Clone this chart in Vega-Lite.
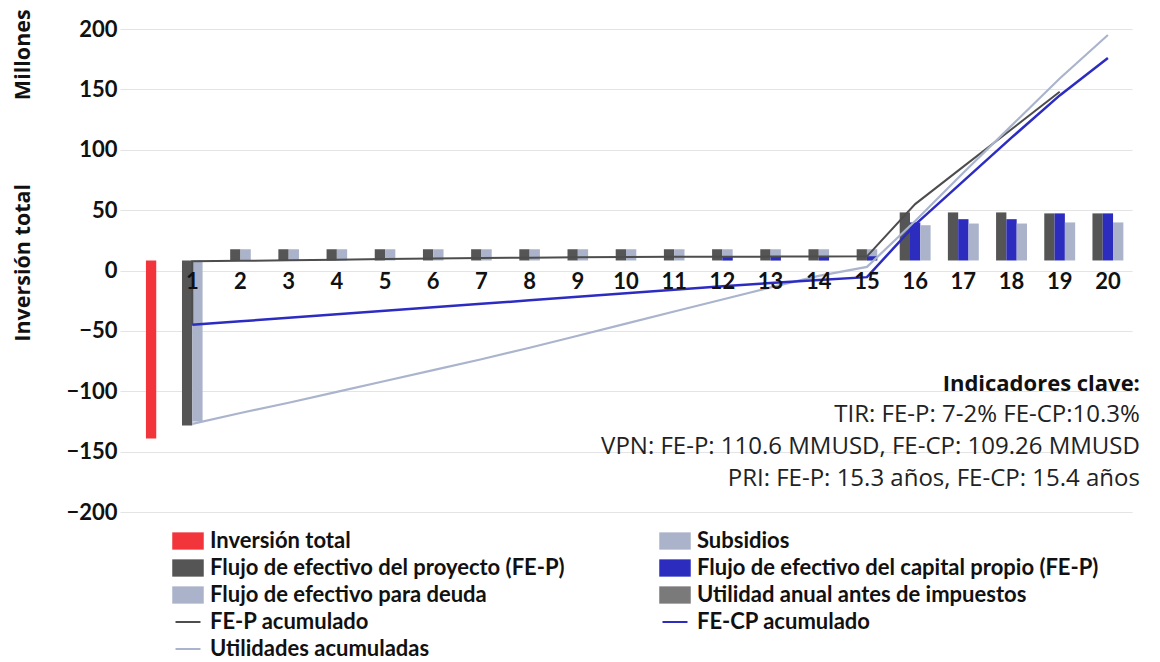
{
  "$schema": "https://vega.github.io/schema/vega-lite/v6.json",
  "width": 1012,
  "height": 483,
  "autosize": {"type": "none"},
  "padding": {"left": 120, "top": 29, "right": 28, "bottom": 150},
  "background": "white",
  "config": {
    "font": "Lato",
    "view": {"stroke": null},
    "axis": {"domain": false, "ticks": false, "tickSize": 0, "labelFont": "Lato", "labelFontWeight": "bold", "labelColor": "#111111", "labelFontSize": 22, "titleFont": "Lato"}
  },
  "datasets": {
    "barras": [
      {"anio": 0, "serie": "Inversión total", "valor": -147.4},
      {"anio": 1, "serie": "FE-P", "valor": -136.6},
      {"anio": 2, "serie": "FE-P", "valor": 9.3},
      {"anio": 3, "serie": "FE-P", "valor": 9.3},
      {"anio": 4, "serie": "FE-P", "valor": 9.3},
      {"anio": 5, "serie": "FE-P", "valor": 9.3},
      {"anio": 6, "serie": "FE-P", "valor": 9.3},
      {"anio": 7, "serie": "FE-P", "valor": 9.3},
      {"anio": 8, "serie": "FE-P", "valor": 9.3},
      {"anio": 9, "serie": "FE-P", "valor": 9.3},
      {"anio": 10, "serie": "FE-P", "valor": 9.3},
      {"anio": 11, "serie": "FE-P", "valor": 9.3},
      {"anio": 12, "serie": "FE-P", "valor": 9.3},
      {"anio": 13, "serie": "FE-P", "valor": 9.3},
      {"anio": 14, "serie": "FE-P", "valor": 9.3},
      {"anio": 15, "serie": "FE-P", "valor": 9.3},
      {"anio": 16, "serie": "FE-P", "valor": 39.8},
      {"anio": 17, "serie": "FE-P", "valor": 39.8},
      {"anio": 18, "serie": "FE-P", "valor": 39.8},
      {"anio": 19, "serie": "FE-P", "valor": 39.0},
      {"anio": 20, "serie": "FE-P", "valor": 39.0},
      {"anio": 1, "serie": "Subsidios", "valor": -133.3},
      {"anio": 2, "serie": "Subsidios", "valor": 9.3},
      {"anio": 3, "serie": "Subsidios", "valor": 9.3},
      {"anio": 4, "serie": "Subsidios", "valor": 9.3},
      {"anio": 5, "serie": "Subsidios", "valor": 9.3},
      {"anio": 6, "serie": "Subsidios", "valor": 9.3},
      {"anio": 7, "serie": "Subsidios", "valor": 9.3},
      {"anio": 8, "serie": "Subsidios", "valor": 9.3},
      {"anio": 9, "serie": "Subsidios", "valor": 9.3},
      {"anio": 10, "serie": "Subsidios", "valor": 9.3},
      {"anio": 11, "serie": "Subsidios", "valor": 9.3},
      {"anio": 12, "serie": "Subsidios", "valor": 9.3},
      {"anio": 13, "serie": "Subsidios", "valor": 9.3},
      {"anio": 14, "serie": "Subsidios", "valor": 9.3},
      {"anio": 15, "serie": "Subsidios", "valor": 9.3},
      {"anio": 12, "serie": "FE-CP", "valor": 3.5},
      {"anio": 13, "serie": "FE-CP", "valor": 3.5},
      {"anio": 14, "serie": "FE-CP", "valor": 3.5},
      {"anio": 15, "serie": "FE-CP", "valor": 3.5},
      {"anio": 16, "serie": "FE-CP", "valor": 31.5},
      {"anio": 17, "serie": "FE-CP", "valor": 34.2},
      {"anio": 18, "serie": "FE-CP", "valor": 34.2},
      {"anio": 19, "serie": "FE-CP", "valor": 39.0},
      {"anio": 20, "serie": "FE-CP", "valor": 39.0},
      {"anio": 16, "serie": "Deuda", "valor": 29.2},
      {"anio": 17, "serie": "Deuda", "valor": 30.6},
      {"anio": 18, "serie": "Deuda", "valor": 30.6},
      {"anio": 19, "serie": "Deuda", "valor": 31.5},
      {"anio": 20, "serie": "Deuda", "valor": 31.5}
    ],
    "lineas": [
      {"serie": "FE-P acumulado", "paso": 0, "anio": 1, "valor": -45},
      {"serie": "FE-P acumulado", "paso": 1, "anio": 1, "valor": 7.7},
      {"serie": "FE-P acumulado", "paso": 2, "anio": 2, "valor": 8.0},
      {"serie": "FE-P acumulado", "paso": 3, "anio": 3, "valor": 8.5},
      {"serie": "FE-P acumulado", "paso": 4, "anio": 4, "valor": 9.0},
      {"serie": "FE-P acumulado", "paso": 5, "anio": 5, "valor": 9.6},
      {"serie": "FE-P acumulado", "paso": 6, "anio": 6, "valor": 10.0},
      {"serie": "FE-P acumulado", "paso": 7, "anio": 7, "valor": 10.3},
      {"serie": "FE-P acumulado", "paso": 8, "anio": 8, "valor": 10.6},
      {"serie": "FE-P acumulado", "paso": 9, "anio": 9, "valor": 11.0},
      {"serie": "FE-P acumulado", "paso": 10, "anio": 10, "valor": 11.2},
      {"serie": "FE-P acumulado", "paso": 11, "anio": 11, "valor": 11.3},
      {"serie": "FE-P acumulado", "paso": 12, "anio": 12, "valor": 11.4},
      {"serie": "FE-P acumulado", "paso": 13, "anio": 13, "valor": 11.5},
      {"serie": "FE-P acumulado", "paso": 14, "anio": 14, "valor": 11.6},
      {"serie": "FE-P acumulado", "paso": 15, "anio": 15, "valor": 11.7},
      {"serie": "FE-P acumulado", "paso": 16, "anio": 16, "valor": 55},
      {"serie": "FE-P acumulado", "paso": 17, "anio": 17, "valor": 86},
      {"serie": "FE-P acumulado", "paso": 18, "anio": 18, "valor": 117},
      {"serie": "FE-P acumulado", "paso": 19, "anio": 19, "valor": 148},
      {"serie": "FE-CP acumulado", "paso": 1, "anio": 1, "valor": -45},
      {"serie": "FE-CP acumulado", "paso": 2, "anio": 2, "valor": -42.1},
      {"serie": "FE-CP acumulado", "paso": 3, "anio": 3, "valor": -39.2},
      {"serie": "FE-CP acumulado", "paso": 4, "anio": 4, "valor": -36.3},
      {"serie": "FE-CP acumulado", "paso": 5, "anio": 5, "valor": -33.4},
      {"serie": "FE-CP acumulado", "paso": 6, "anio": 6, "valor": -30.5},
      {"serie": "FE-CP acumulado", "paso": 7, "anio": 7, "valor": -27.6},
      {"serie": "FE-CP acumulado", "paso": 8, "anio": 8, "valor": -24.7},
      {"serie": "FE-CP acumulado", "paso": 9, "anio": 9, "valor": -21.8},
      {"serie": "FE-CP acumulado", "paso": 10, "anio": 10, "valor": -18.9},
      {"serie": "FE-CP acumulado", "paso": 11, "anio": 11, "valor": -16.0},
      {"serie": "FE-CP acumulado", "paso": 12, "anio": 12, "valor": -13.1},
      {"serie": "FE-CP acumulado", "paso": 13, "anio": 13, "valor": -10.3},
      {"serie": "FE-CP acumulado", "paso": 14, "anio": 14, "valor": -7.9},
      {"serie": "FE-CP acumulado", "paso": 15, "anio": 15, "valor": -5.5},
      {"serie": "FE-CP acumulado", "paso": 16, "anio": 16, "valor": 38},
      {"serie": "FE-CP acumulado", "paso": 17, "anio": 17, "valor": 74},
      {"serie": "FE-CP acumulado", "paso": 18, "anio": 18, "valor": 110},
      {"serie": "FE-CP acumulado", "paso": 19, "anio": 19, "valor": 145},
      {"serie": "FE-CP acumulado", "paso": 20, "anio": 20, "valor": 176},
      {"serie": "Utilidades acumuladas", "paso": 1, "anio": 1, "valor": -127},
      {"serie": "Utilidades acumuladas", "paso": 2, "anio": 2, "valor": -118},
      {"serie": "Utilidades acumuladas", "paso": 3, "anio": 3, "valor": -109.5},
      {"serie": "Utilidades acumuladas", "paso": 4, "anio": 4, "valor": -100.5},
      {"serie": "Utilidades acumuladas", "paso": 5, "anio": 5, "valor": -91.5},
      {"serie": "Utilidades acumuladas", "paso": 6, "anio": 6, "valor": -82.5},
      {"serie": "Utilidades acumuladas", "paso": 7, "anio": 7, "valor": -73.5},
      {"serie": "Utilidades acumuladas", "paso": 8, "anio": 8, "valor": -64},
      {"serie": "Utilidades acumuladas", "paso": 9, "anio": 9, "valor": -54},
      {"serie": "Utilidades acumuladas", "paso": 10, "anio": 10, "valor": -44},
      {"serie": "Utilidades acumuladas", "paso": 11, "anio": 11, "valor": -34},
      {"serie": "Utilidades acumuladas", "paso": 12, "anio": 12, "valor": -24},
      {"serie": "Utilidades acumuladas", "paso": 13, "anio": 13, "valor": -14},
      {"serie": "Utilidades acumuladas", "paso": 14, "anio": 14, "valor": -4.5},
      {"serie": "Utilidades acumuladas", "paso": 15, "anio": 15, "valor": 3},
      {"serie": "Utilidades acumuladas", "paso": 16, "anio": 16, "valor": 41},
      {"serie": "Utilidades acumuladas", "paso": 17, "anio": 17, "valor": 81},
      {"serie": "Utilidades acumuladas", "paso": 18, "anio": 18, "valor": 120},
      {"serie": "Utilidades acumuladas", "paso": 19, "anio": 19, "valor": 159},
      {"serie": "Utilidades acumuladas", "paso": 20, "anio": 20, "valor": 195}
    ],
    "leyenda": [
      {"serie": "Inversión total"},
      {"serie": "Flujo de efectivo del proyecto (FE-P)"},
      {"serie": "Flujo de efectivo para deuda"},
      {"serie": "FE-P acumulado"},
      {"serie": "Utilidades acumuladas"},
      {"serie": "Subsidios"},
      {"serie": "Flujo de efectivo del capital propio (FE-P)"},
      {"serie": "Utilidad anual antes de impuestos"},
      {"serie": "FE-CP acumulado"}
    ]
  },
  "layer": [
    {
      "layer": [
        {
          "data": {"name": "barras"},
          "transform": [{"filter": "datum.serie === 'Inversión total'"}],
          "mark": {"type": "bar", "color": "#f2353b", "width": 10.3, "xOffset": 7},
          "encoding": {
            "x": {"field": "anio", "type": "ordinal", "scale": {"type": "band", "domain": [0,1,2,3,4,5,6,7,8,9,10,11,12,13,14,15,16,17,18,19,20], "paddingInner": 0, "paddingOuter": 0}, "axis": {"values": [1,2,3,4,5,6,7,8,9,10,11,12,13,14,15,16,17,18,19,20], "offset": -224, "labelPadding": 0, "labelBaseline": "alphabetic", "labelAngle": 0, "grid": false, "title": null, "zindex": 2}},
            "y": {"field": "valor", "type": "quantitative", "scale": {"domain": [-208.3, 191.7], "nice": false}, "axis": null}
          }
        },
        {
          "data": {"name": "barras"},
          "transform": [{"filter": "datum.serie === 'FE-P' && datum.anio <= 15"}],
          "mark": {"type": "bar", "color": "#555555", "width": 10.3, "xOffset": -5.15},
          "encoding": {
            "x": {"field": "anio", "type": "ordinal", "scale": {"type": "band", "domain": [0,1,2,3,4,5,6,7,8,9,10,11,12,13,14,15,16,17,18,19,20], "paddingInner": 0, "paddingOuter": 0}},
            "y": {"field": "valor", "type": "quantitative", "scale": {"domain": [-208.3, 191.7], "nice": false}, "axis": null}
          }
        },
        {
          "data": {"name": "barras"},
          "transform": [{"filter": "datum.serie === 'Subsidios'"}],
          "mark": {"type": "bar", "color": "#aab3c9", "width": 10.3, "xOffset": 5.15},
          "encoding": {
            "x": {"field": "anio", "type": "ordinal", "scale": {"type": "band", "domain": [0,1,2,3,4,5,6,7,8,9,10,11,12,13,14,15,16,17,18,19,20], "paddingInner": 0, "paddingOuter": 0}},
            "y": {"field": "valor", "type": "quantitative", "scale": {"domain": [-208.3, 191.7], "nice": false}, "axis": null}
          }
        },
        {
          "data": {"name": "barras"},
          "transform": [{"filter": "datum.serie === 'FE-CP' && datum.anio <= 15"}],
          "mark": {"type": "bar", "color": "#2c2cbf", "width": 10.3, "xOffset": 5.15},
          "encoding": {
            "x": {"field": "anio", "type": "ordinal", "scale": {"type": "band", "domain": [0,1,2,3,4,5,6,7,8,9,10,11,12,13,14,15,16,17,18,19,20], "paddingInner": 0, "paddingOuter": 0}},
            "y": {"field": "valor", "type": "quantitative", "scale": {"domain": [-208.3, 191.7], "nice": false}, "axis": null}
          }
        },
        {
          "data": {"name": "barras"},
          "transform": [{"filter": "datum.serie === 'FE-P' && datum.anio >= 16"}],
          "mark": {"type": "bar", "color": "#555555", "width": 10.3, "xOffset": -10.3},
          "encoding": {
            "x": {"field": "anio", "type": "ordinal", "scale": {"type": "band", "domain": [0,1,2,3,4,5,6,7,8,9,10,11,12,13,14,15,16,17,18,19,20], "paddingInner": 0, "paddingOuter": 0}},
            "y": {"field": "valor", "type": "quantitative", "scale": {"domain": [-208.3, 191.7], "nice": false}, "axis": null}
          }
        },
        {
          "data": {"name": "barras"},
          "transform": [{"filter": "datum.serie === 'FE-CP' && datum.anio >= 16"}],
          "mark": {"type": "bar", "color": "#2c2cbf", "width": 10.3, "xOffset": 0},
          "encoding": {
            "x": {"field": "anio", "type": "ordinal", "scale": {"type": "band", "domain": [0,1,2,3,4,5,6,7,8,9,10,11,12,13,14,15,16,17,18,19,20], "paddingInner": 0, "paddingOuter": 0}},
            "y": {"field": "valor", "type": "quantitative", "scale": {"domain": [-208.3, 191.7], "nice": false}, "axis": null}
          }
        },
        {
          "data": {"name": "barras"},
          "transform": [{"filter": "datum.serie === 'Deuda'"}],
          "mark": {"type": "bar", "color": "#aab3c9", "width": 10.3, "xOffset": 10.3},
          "encoding": {
            "x": {"field": "anio", "type": "ordinal", "scale": {"type": "band", "domain": [0,1,2,3,4,5,6,7,8,9,10,11,12,13,14,15,16,17,18,19,20], "paddingInner": 0, "paddingOuter": 0}},
            "y": {"field": "valor", "type": "quantitative", "scale": {"domain": [-208.3, 191.7], "nice": false}, "axis": null}
          }
        }
      ]
    },
    {
      "layer": [
        {
          "data": {"name": "lineas"},
          "transform": [{"filter": "datum.serie === 'FE-P acumulado'"}],
          "mark": {"type": "line", "color": "#4d4d4d", "strokeWidth": 2},
          "encoding": {
            "x": {"field": "anio", "type": "ordinal", "scale": {"type": "band", "domain": [0,1,2,3,4,5,6,7,8,9,10,11,12,13,14,15,16,17,18,19,20], "paddingInner": 0, "paddingOuter": 0}},
            "y": {"field": "valor", "type": "quantitative", "scale": {"domain": [-200, 200], "nice": false}, "axis": {"values": [-200,-150,-100,-50,0,50,100,150,200], "grid": true, "gridColor": "#e4e4e4", "gridWidth": 1.2, "labelPadding": 3, "title": "Inversión total\u00a0\u00a0\u00a0\u00a0\u00a0\u00a0\u00a0\u00a0\u00a0\u00a0\u00a0\u00a0\u00a0\u00a0\u00a0Millones", "titleFont": "Open Sans", "titleFontSize": 21.5, "titleFontWeight": "bold", "titleColor": "#111111", "titleX": -91, "titleY": 146, "titleAngle": -90, "titleAlign": "center", "titleBaseline": "alphabetic"}},
            "order": {"field": "paso", "type": "quantitative"}
          }
        },
        {
          "data": {"name": "lineas"},
          "transform": [{"filter": "datum.serie === 'Utilidades acumuladas'"}],
          "mark": {"type": "line", "color": "#aab4cc", "strokeWidth": 2.2},
          "encoding": {
            "x": {"field": "anio", "type": "ordinal", "scale": {"type": "band", "domain": [0,1,2,3,4,5,6,7,8,9,10,11,12,13,14,15,16,17,18,19,20], "paddingInner": 0, "paddingOuter": 0}},
            "y": {"field": "valor", "type": "quantitative", "scale": {"domain": [-200, 200], "nice": false}},
            "order": {"field": "paso", "type": "quantitative"}
          }
        },
        {
          "data": {"name": "lineas"},
          "transform": [{"filter": "datum.serie === 'FE-CP acumulado'"}],
          "mark": {"type": "line", "color": "#2c2cc2", "strokeWidth": 2.5},
          "encoding": {
            "x": {"field": "anio", "type": "ordinal", "scale": {"type": "band", "domain": [0,1,2,3,4,5,6,7,8,9,10,11,12,13,14,15,16,17,18,19,20], "paddingInner": 0, "paddingOuter": 0}},
            "y": {"field": "valor", "type": "quantitative", "scale": {"domain": [-200, 200], "nice": false}},
            "order": {"field": "paso", "type": "quantitative"}
          }
        },
        {
          "data": {"values": [{}]},
          "mark": {"type": "text", "text": "Indicadores clave:", "align": "right", "baseline": "middle", "dx": 32, "font": "Open Sans", "fontSize": 22, "fontWeight": "bold", "color": "#111111"},
          "encoding": {
            "x": {"datum": 20, "type": "ordinal"},
            "y": {"datum": -94, "type": "quantitative"}
          }
        },
        {
          "data": {"values": [{}]},
          "mark": {"type": "text", "text": ["TIR: FE-P: 7-2% FE-CP:10.3%", "VPN: FE-P: 110.6 MMUSD, FE-CP: 109.26 MMUSD", "PRI: FE-P: 15.3 años, FE-CP: 15.4 años"], "align": "right", "baseline": "middle", "dx": 32, "lineHeight": 32, "font": "Open Sans", "fontSize": 24, "color": "#222222"},
          "encoding": {
            "x": {"datum": 20, "type": "ordinal"},
            "y": {"datum": -120, "type": "quantitative"}
          }
        },
        {
          "data": {"name": "leyenda"},
          "mark": {"type": "point", "filled": true, "size": 0, "opacity": 1},
          "encoding": {
            "color": {
              "field": "serie", "type": "nominal",
              "scale": {
                "domain": ["Inversión total", "Flujo de efectivo del proyecto (FE-P)", "Flujo de efectivo para deuda", "FE-P acumulado", "Utilidades acumuladas", "Subsidios", "Flujo de efectivo del capital propio (FE-P)", "Utilidad anual antes de impuestos", "FE-CP acumulado"],
                "range": ["#f2353b", "#555555", "#aab3c9", "#4d4d4d", "#aab4cc", "#aab3c9", "#2c2cbf", "#7a7a7a", "#2c2cc2"]
              },
              "legend": {"title": null, "orient": "none", "legendX": 57, "legendY": 501, "columns": 2, "columnPadding": 94, "rowPadding": 5, "symbolSize": 484, "symbolOpacity": 1, "symbolStrokeWidth": 0, "labelFont": "Lato", "labelFontSize": 22, "labelFontWeight": "bold", "labelColor": "#111111", "labelOffset": 11, "labelLimit": 700, "padding": 0}
            },
            "shape": {
              "field": "serie", "type": "nominal",
              "scale": {
                "domain": ["Inversión total", "Flujo de efectivo del proyecto (FE-P)", "Flujo de efectivo para deuda", "FE-P acumulado", "Utilidades acumuladas", "Subsidios", "Flujo de efectivo del capital propio (FE-P)", "Utilidad anual antes de impuestos", "FE-CP acumulado"],
                "range": ["M-1.432,-0.786H1.432V0.786H-1.432Z", "M-1.432,-0.786H1.432V0.786H-1.432Z", "M-1.432,-0.786H1.432V0.786H-1.432Z", "M-1.136,-0.091H1.136V0.091H-1.136Z", "M-1.136,-0.091H1.136V0.091H-1.136Z", "M-1.432,-0.786H1.432V0.786H-1.432Z", "M-1.432,-0.786H1.432V0.786H-1.432Z", "M-1.432,-0.786H1.432V0.786H-1.432Z", "M-1.136,-0.091H1.136V0.091H-1.136Z"]
              }
            }
          }
        }
      ]
    }
  ],
  "resolve": {"scale": {"y": "independent"}}
}
